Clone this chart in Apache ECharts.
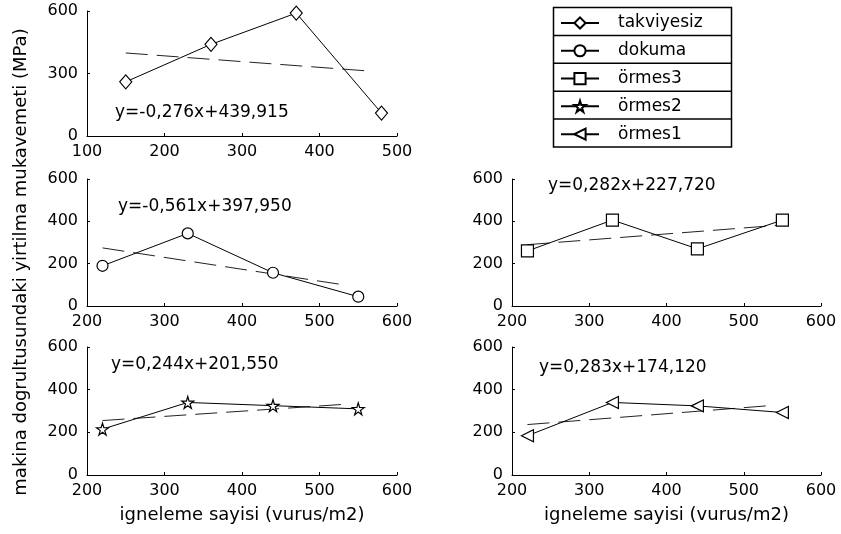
<!DOCTYPE html>
<html>
<head>
<meta charset="utf-8">
<script src="https://cdn.jsdelivr.net/npm/echarts@6/dist/echarts.min.js"></script>
<style>
  html, body { margin: 0; padding: 0; background: #fff; }
  #chart { width: 841px; height: 534px; }
</style>
</head>
<body>
<div id="chart"></div>
<script>
// Series names (legend order)
const seriesNames = ['takviyesiz', 'dokuma', 'örmes3', 'örmes2', 'örmes1'];

// Needle-punch density (x) per panel
const xTakviyesiz = [150, 260, 370, 480];
const xDokuma = [220, 330, 440, 550];
const xOrmes3 = [220, 330, 440, 550];
const xOrmes2 = [220, 330, 440, 550];
const xOrmes1 = [220, 330, 440, 550];

// Tear strength in machine direction (MPa)
const yTakviyesiz = [260, 440, 590, 110];
const yDokuma = [190, 343, 157, 44];
const yOrmes3 = [260, 406, 270, 406];
const yOrmes2 = [215, 340, 325, 310];
const yOrmes1 = [184, 340, 324, 293];

// Linear fits y = a*x + b and the x-span each fit is drawn over
const fitSlope = [-0.276, -0.561, 0.282, 0.244, 0.283];
const fitIntercept = [439.915, 397.950, 227.720, 201.550, 174.120];
const fitLabels = ['y=-0,276x+439,915', 'y=-0,561x+397,950', 'y=0,282x+227,720', 'y=0,244x+201,550', 'y=0,283x+174,120'];
const fitFrom = [150, 220, 220, 220, 220];
const fitTo = [465, 535, 545, 531, 536];

// Axis ranges and tick steps
const xMin = [100, 200, 200, 200, 200];
const xMax = [500, 600, 600, 600, 600];
const xStep = [100, 100, 100, 100, 100];
const yMax = [600, 600, 600, 600, 600];
const yStep = [300, 200, 200, 200, 200];

const xTitle = 'igneleme sayisi (vurus/m2)';
const yTitle = 'makina dogrultusundaki yirtilma mukavemeti (MPa)';

const xs = [xTakviyesiz, xDokuma, xOrmes3, xOrmes2, xOrmes1];
const ys = [yTakviyesiz, yDokuma, yOrmes3, yOrmes2, yOrmes1];

// Marker shapes
const STAR = 'path://M50,0 L61,35 L98,35 L68,57 L79,91 L50,70 L21,91 L32,57 L2,35 L39,35 Z';
const TRI_LEFT = 'path://M0,50 L100,0 L100,100 Z';
const symbols = ['diamond', 'circle', 'rect', STAR, TRI_LEFT];
const symbolSizes = [[12, 14], 11, 12, 12, 12];

const FONT = 'DejaVu Sans';

// Panel layout
const grids = [
  { left: 87, top: 11, width: 310, height: 125 },
  { left: 87, top: 179, width: 310, height: 127 },
  { left: 512, top: 179, width: 309, height: 127 },
  { left: 87, top: 347, width: 310, height: 128 },
  { left: 512, top: 347, width: 309, height: 128 }
];
// Equation text anchors (left, vertical centre)
const eqPos = [[115, 113], [118, 207], [548, 186], [111, 365], [539, 368]];

const axisCommon = {
  axisLine: { show: true, lineStyle: { color: '#000', width: 1 } },
  axisTick: { show: true, inside: true, length: 3, lineStyle: { color: '#000' } },
  splitLine: { show: false },
  axisLabel: { color: '#000', fontFamily: FONT, fontSize: 16 }
};

const xAxes = grids.map((g, i) => Object.assign({}, axisCommon, {
  type: 'value', gridIndex: i, min: xMin[i], max: xMax[i], interval: xStep[i],
  axisLabel: Object.assign({}, axisCommon.axisLabel, { margin: 8 }),
  name: i >= 3 ? xTitle : '',
  nameLocation: 'middle', nameGap: 31,
  nameTextStyle: { color: '#000', fontFamily: FONT, fontSize: 18 }
}));
const yAxes = grids.map((g, i) => Object.assign({}, axisCommon, {
  type: 'value', gridIndex: i, min: 0, max: yMax[i], interval: yStep[i],
  axisLabel: Object.assign({}, axisCommon.axisLabel, { margin: 9 })
}));

const series = [];
seriesNames.forEach((name, i) => {
  series.push({
    name: name, type: 'line', xAxisIndex: i, yAxisIndex: i,
    data: xs[i].map((x, k) => [x, ys[i][k]]),
    symbol: symbols[i], symbolSize: symbolSizes[i], showSymbol: true,
    lineStyle: { color: '#000', width: 1 },
    itemStyle: { color: '#fff', borderColor: '#000', borderWidth: 1.2 },
    emphasis: { disabled: true }, z: 3
  });
});
seriesNames.forEach((name, i) => {
  series.push({
    name: 'fit ' + name, type: 'line', xAxisIndex: i, yAxisIndex: i,
    data: [fitFrom[i], fitTo[i]].map(x => [x, fitSlope[i] * x + fitIntercept[i]]),
    symbol: 'none',
    lineStyle: { color: '#222', width: 1, type: [22, 9] },
    emphasis: { disabled: true }, z: 2
  });
});

// Boxed legend frame with row separators
const lgX = 553.5, lgY = 7.5, lgW = 178, lgRow = 27.9;
const lgItemH = 17.1; // rendered height of one legend entry
const legendFrame = [{
  type: 'rect', shape: { x: lgX, y: lgY, width: lgW, height: lgRow * 5 },
  style: { fill: 'none', stroke: '#000', lineWidth: 1.5 }, z: 10
}];
for (let k = 1; k < 5; k++) {
  legendFrame.push({
    type: 'line', shape: { x1: lgX, y1: lgY + k * lgRow, x2: lgX + lgW, y2: lgY + k * lgRow },
    style: { stroke: '#000', lineWidth: 1.5 }, z: 10
  });
}

const eqTexts = fitLabels.map((t, i) => ({
  type: 'text', x: eqPos[i][0], y: eqPos[i][1],
  style: { text: t, fill: '#000', font: '17px "' + FONT + '"', textAlign: 'left', textVerticalAlign: 'middle' }
}));

const chart = echarts.init(document.getElementById('chart'), null, { renderer: 'canvas' });
chart.setOption({
  animation: false,
  backgroundColor: '#fff',
  grid: grids,
  xAxis: xAxes,
  yAxis: yAxes,
  legend: {
    data: seriesNames, orient: 'vertical', left: 560, top: lgY + (lgRow - 14) / 2,
    padding: 0, itemWidth: 38, itemHeight: 14, itemGap: lgRow - lgItemH,
    selectedMode: false,
    textStyle: { color: '#000', fontFamily: FONT, fontSize: 17, padding: [0, 0, 0, 14] }
  },
  graphic: legendFrame.concat(eqTexts, [{
    type: 'text', x: 21, y: 262, rotation: Math.PI / 2,
    style: { text: yTitle, fill: '#000', font: '18px "' + FONT + '"', textAlign: 'center', textVerticalAlign: 'middle' }
  }]),
  series: series
});
</script>
</body>
</html>
